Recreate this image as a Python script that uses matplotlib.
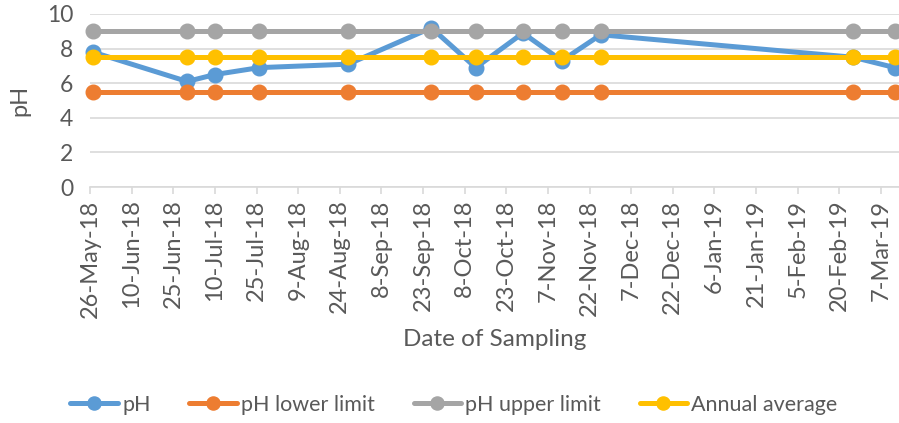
import matplotlib
matplotlib.use("Agg")
import matplotlib.pyplot as plt
import matplotlib.dates as mdates
from datetime import datetime, timedelta

# sampling dates and values
dates = ["2018-05-27", "2018-06-30", "2018-07-10", "2018-07-26", "2018-08-27",
         "2018-09-26", "2018-10-12", "2018-10-29", "2018-11-12", "2018-11-26",
         "2019-02-25", "2019-03-12"]
ph = [7.8, 6.1, 6.5, 6.9, 7.1, 9.2, 6.9, 8.9, 7.3, 8.8, 7.5, 6.9]
ph_lower = [5.5] * 12
ph_upper = [9.0] * 12
annual_avg = [7.5] * 12

series = [("pH", ph, "#5B9BD5"),
          ("pH lower limit", ph_lower, "#ED7D31"),
          ("pH upper limit", ph_upper, "#A5A5A5"),
          ("Annual average", annual_avg, "#FFC000")]

plt.rcParams['font.family'] = ['Lato', 'DejaVu Sans']
txt = "#595959"

x = [datetime.strptime(d, "%Y-%m-%d") for d in dates]
start = datetime(2018, 5, 26)

fig = plt.figure(figsize=(8.99, 4.23), dpi=100)
ax = fig.add_axes([90/899, 1-187/423, 1-90/899, (187-14)/423])

for name, vals, col in series:
    ax.plot(x, vals, color=col, lw=3.6, marker="o", ms=10.5, label=name,
            clip_on=False, solid_capstyle="round", zorder=3)

ax.set_ylim(0, 10)
ax.set_yticks(range(0, 11, 2))
ax.set_xlim(start, start + timedelta(days=291.5))
ticks = [start + timedelta(days=15*i) for i in range(20)]
ax.set_xticks(ticks)
ax.xaxis.set_major_formatter(mdates.DateFormatter("%-d-%b-%y"))

ax.grid(axis="y", color="#D9D9D9", lw=1.2)
ax.set_axisbelow(True)
for s in ["top", "right", "left"]:
    ax.spines[s].set_visible(False)
ax.spines["bottom"].set_color("#D9D9D9")
ax.spines["bottom"].set_linewidth(1.2)
ax.tick_params(axis="x", colors="#D9D9D9", length=5, width=1.2, labelcolor=txt,
               labelsize=17, labelrotation=90, pad=4)
ax.tick_params(axis="y", length=0, labelcolor=txt, labelsize=16.5, pad=12)

ax.set_ylabel("pH", fontsize=17, color=txt, labelpad=12)
ax.set_xlabel("Date of Sampling", fontsize=17.5, color=txt, labelpad=8)

fig.legend(loc="center", bbox_to_anchor=(0.505, 1-405/423), ncol=4, frameon=False,
           fontsize=15.5, labelcolor=txt, handlelength=2.2, handletextpad=0.2,
           columnspacing=1.8, markerscale=0.9)

fig.savefig("out.png", dpi=100)
